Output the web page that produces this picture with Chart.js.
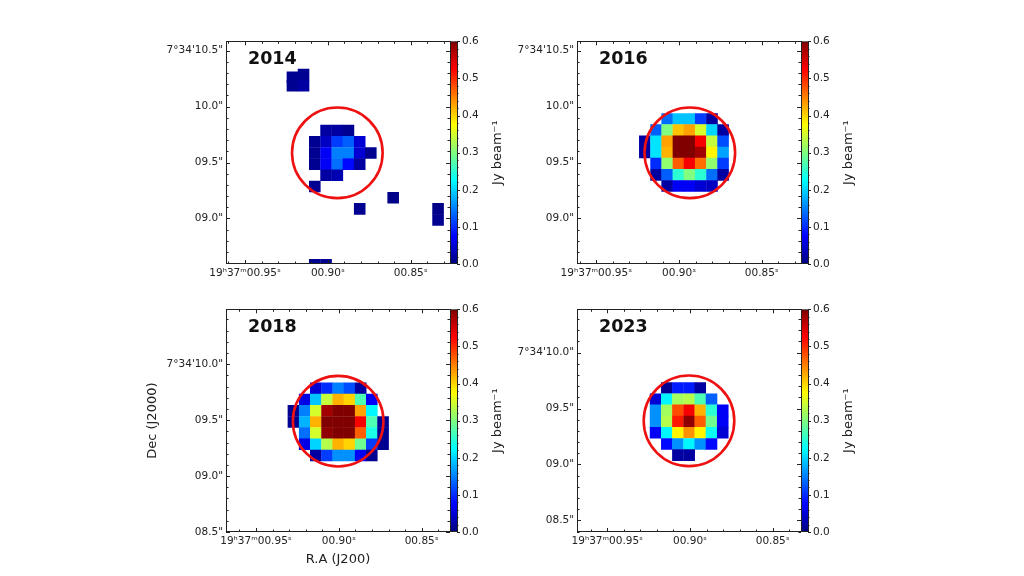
<!DOCTYPE html>
<html>
<head>
<meta charset="utf-8">
<title>Flux maps</title>
<script src="https://cdn.jsdelivr.net/npm/chart.js@4"></script>
<style>
  html, body { margin: 0; background: #fff; width: 1024px; height: 576px; overflow: hidden; }
  canvas { position: absolute; filter: blur(0.35px); }
</style>
</head>
<body>
<canvas id="map2014" width="379" height="281" style="left:141px;top:23px"></canvas>
<canvas id="map2016" width="379" height="281" style="left:492px;top:23px"></canvas>
<canvas id="map2018" width="379" height="281" style="left:141px;top:291px"></canvas>
<canvas id="map2023" width="379" height="281" style="left:492px;top:291px"></canvas>
<script>
// RA seconds of the map columns, Dec arcsec of the map rows (19h37m00.xx, 7d34'xx)
var ra2014 = [0.9079, 0.9011, 0.8943, 0.8876, 0.8808, 0.8741];
var dec2014 = [9.786, 9.686, 9.586, 9.486, 9.386, 9.286];
var flux2014 = [
  [null, 0.02, 0.02, 0.01, null, null],
  [0.01, 0.04, 0.11, 0.13, 0.05, null],
  [0.01, 0.07, 0.15, 0.15, 0.05, 0.01],
  [0.01, 0.07, 0.14, 0.08, 0.02, null],
  [null, 0.02, 0.03, null, null, null],
  [0.01, null, null, null, null, null]
];
// isolated noise spots in 2014
var spotRa2014 = [0.9214, 0.9214, 0.9147, 0.9147, 0.8606, 0.8808, 0.8335, 0.8335, 0.9079, 0.9011];
var spotDec2014 = [10.262, 10.186, 10.286, 10.186, 9.186, 9.086, 9.086, 8.986, 8.586, 8.586];
var spotFlux2014 = [0.01, 0.01, 0.01, 0.02, 0.005, 0.01, 0.005, 0.01, 0.01, 0.01];

var ra2016 = [0.9207, 0.9139, 0.9072, 0.9004, 0.8937, 0.8869, 0.8801, 0.8734];
var dec2016 = [9.89, 9.79, 9.69, 9.59, 9.49, 9.39, 9.29];
var flux2016 = [
  [null, null, 0.14, 0.19, 0.19, 0.11, 0.02, null],
  [null, 0.13, 0.30, 0.41, 0.43, 0.35, 0.20, 0.02],
  [0.02, 0.21, 0.43, 0.60, 0.60, 0.53, 0.34, 0.12],
  [0.02, 0.21, 0.42, 0.60, 0.60, 0.58, 0.38, 0.17],
  [null, 0.10, 0.31, 0.47, 0.53, 0.46, 0.31, 0.11],
  [null, 0.02, 0.13, 0.25, 0.30, 0.25, 0.14, 0.02],
  [null, null, 0.02, 0.07, 0.07, 0.05, 0.04, null]
];

var ra2018 = [0.9274, 0.9206, 0.9139, 0.9071, 0.9004, 0.8936, 0.8868, 0.8801, 0.8733];
var dec2018 = [9.784, 9.684, 9.584, 9.484, 9.384, 9.284, 9.184];
var flux2018 = [
  [null, null, 0.05, 0.10, 0.15, 0.12, 0.02, null, null],
  [null, 0.06, 0.19, 0.34, 0.42, 0.40, 0.27, 0.07, null],
  [0.01, 0.15, 0.35, 0.58, 0.60, 0.60, 0.43, 0.22, null],
  [0.01, 0.18, 0.42, 0.60, 0.60, 0.60, 0.53, 0.27, 0.01],
  [null, 0.14, 0.35, 0.59, 0.60, 0.60, 0.47, 0.24, 0.01],
  [null, 0.06, 0.20, 0.33, 0.42, 0.40, 0.29, 0.11, 0.01],
  [null, null, 0.02, 0.11, 0.16, 0.16, 0.07, 0.01, null]
];

var ra2023 = [0.9208, 0.9140, 0.9073, 0.9005, 0.8938, 0.8870, 0.8802];
var dec2023 = [9.683, 9.583, 9.483, 9.383, 9.283, 9.183, 9.083];
var flux2023 = [
  [null, 0.01, 0.09, 0.09, 0.02, null, null],
  [0.05, 0.22, 0.32, 0.33, 0.27, 0.13, null],
  [0.16, 0.32, 0.48, 0.53, 0.42, 0.25, 0.07],
  [0.16, 0.33, 0.51, 0.59, 0.47, 0.29, 0.07],
  [0.07, 0.22, 0.38, 0.44, 0.38, 0.23, 0.05],
  [null, 0.08, 0.16, 0.22, 0.16, 0.08, null],
  [null, null, 0.02, 0.02, null, null, null]
];

// axis limits per panel
var raLimits2014 = [0.9615, 0.8263];
var raLimits2016 = [0.9617, 0.8263];
var raLimits2018 = [0.9681, 0.8329];
var raLimits2023 = [0.9683, 0.8329];
var decLimits2014 = [8.593, 10.584];
var decLimits2016 = [8.593, 10.584];
var decLimits2018 = [8.5, 10.491];
var decLimits2023 = [8.396, 10.387];

// red source aperture: centre per panel, radius in arcsec
var circleRa = [0.8943, 0.8935, 0.9004, 0.9006];
var circleDec = [9.587, 9.587, 9.491, 9.39];
var circleRadius = 0.405;

// ticks
var raTicks = [0.95, 0.90, 0.85];
var raMinor = [0.96, 0.94, 0.93, 0.92, 0.91, 0.89, 0.88, 0.87, 0.86, 0.84, 0.83];
var decMinor = [8.4, 8.6, 8.7, 8.8, 8.9, 9.1, 9.2, 9.3, 9.4, 9.6, 9.7, 9.8, 9.9, 10.1, 10.2, 10.3, 10.4, 10.6];
var decTicksHigh = [10.5, 10.0, 9.5, 9.0];
var decLabelsHigh = ['7°34\'10.5"', '10.0"', '09.5"', '09.0"'];
var decTicksLow = [10.0, 9.5, 9.0, 8.5];
var decLabelsLow = ['7°34\'10.0"', '09.5"', '09.0"', '08.5"'];
var cbarTicks = [0, 0.1, 0.2, 0.3, 0.4, 0.5, 0.6];
var cbarMinor = [0.02, 0.04, 0.06, 0.08, 0.12, 0.14, 0.16, 0.18, 0.22, 0.24, 0.26, 0.28, 0.32, 0.34, 0.36, 0.38, 0.42, 0.44, 0.46, 0.48, 0.52, 0.54, 0.56, 0.58];

var cbarMax = 0.6;
var ink = '#222';
var cellArcsec = 0.1;

function jet(v) {
  var t = Math.min(Math.max(v / cbarMax, 0), 1);
  function ramp(c) {
    return Math.round(255 * Math.min(Math.max(1.5 - Math.abs(4 * t - c), 0), 1));
  }
  return 'rgb(' + ramp(3) + ',' + ramp(2) + ',' + ramp(1) + ')';
}

// matrix + row/col coordinates -> scatter points
function toPoints(ra, dec, flux) {
  var pts = [];
  for (var r in flux) {
    for (var c in flux[r]) {
      if (flux[r][c] !== null) pts.push({ x: ra[c], y: dec[r], v: flux[r][c] });
    }
  }
  return pts;
}

function spots(ra, dec, flux) {
  return ra.map(function (x, i) { return { x: x, y: dec[i], v: flux[i] }; });
}

// side of one map pixel in screen px, from the y scale
function cellRadius(ctx) {
  var y = ctx.chart.scales.y;
  var side = Math.abs(y.getPixelForValue(0) - y.getPixelForValue(cellArcsec));
  return (side + 0.4) / Math.SQRT2;
}

function circlePx(ctx) {
  var y = ctx.chart.scales.y;
  return Math.abs(y.getPixelForValue(0) - y.getPixelForValue(circleRadius));
}

// frame and inward ticks on all four sides, colour bar, year and rotated label
var framePlugin = {
  id: 'frame',
  afterDraw: function (chart, args, opts) {
    var c = chart.ctx, a = chart.chartArea, sx = chart.scales.x, sy = chart.scales.y, sb = chart.scales.cbar;
    c.save();
    c.strokeStyle = ink;
    c.lineWidth = 1;

    function hline(y, x1, x2) { y = Math.round(y) + 0.5; c.beginPath(); c.moveTo(x1, y); c.lineTo(x2, y); c.stroke(); }
    function vline(x, y1, y2) { x = Math.round(x) + 0.5; c.beginPath(); c.moveTo(x, y1); c.lineTo(x, y2); c.stroke(); }

    hline(a.top, a.left, a.right + 1);
    hline(a.bottom - 1, a.left, a.right + 1);
    vline(a.left, a.top, a.bottom);
    vline(a.right, a.top, a.bottom);

    raTicks.forEach(function (v) {
      var p = sx.getPixelForValue(v);
      vline(p, a.bottom - 4, a.bottom); vline(p, a.top, a.top + 4);
    });
    raMinor.forEach(function (v) {
      var p = sx.getPixelForValue(v);
      if (p < a.left || p > a.right) return;
      vline(p, a.bottom - 2.5, a.bottom); vline(p, a.top, a.top + 2.5);
    });
    opts.decTicks.forEach(function (v) {
      var p = sy.getPixelForValue(v);
      hline(p, a.left, a.left + 4); hline(p, a.right - 4, a.right);
    });
    decMinor.forEach(function (v) {
      var p = sy.getPixelForValue(v);
      if (p < a.top || p > a.bottom) return;
      hline(p, a.left, a.left + 2.5); hline(p, a.right - 2.5, a.right);
    });

    // colour bar
    var bx = a.right + 1, bw = 6;
    for (var p = Math.ceil(a.top); p < a.bottom; p++) {
      c.fillStyle = jet(sb.getValueForPixel(p + 0.5));
      c.fillRect(bx, p, bw, 1);
    }
    c.strokeRect(bx - 0.5, a.top + 0.5, bw + 1, a.bottom - a.top - 1);
    cbarTicks.forEach(function (v) {
      hline(sb.getPixelForValue(v), bx + bw, bx + bw + 3);
    });
    cbarMinor.forEach(function (v) {
      hline(sb.getPixelForValue(v), bx + bw, bx + bw + 1.5);
    });

    c.fillStyle = '#111';
    c.font = 'bold 17.5px "DejaVu Sans"';
    c.textAlign = 'left';
    c.textBaseline = 'alphabetic';
    c.fillText(opts.year, a.left + 22, a.top + 23);

    c.fillStyle = ink;
    c.font = '13px "DejaVu Sans"';
    c.translate(a.right + 47.5, (a.top + a.bottom) / 2);
    c.rotate(-Math.PI / 2);
    c.textAlign = 'center';
    c.textBaseline = 'middle';
    c.fillText('Jy beam⁻¹', 0, 0);
    c.restore();
  }
};

function drawPanel(id, year, points, circleIdx, raLimits, decLimits, decTicks, decLabels, xTitle, yTitle) {
  new Chart(document.getElementById(id), {
    type: 'scatter',
    data: {
      datasets: [
        {
          label: 'aperture',
          data: [{ x: circleRa[circleIdx], y: circleDec[circleIdx] }],
          pointStyle: 'circle',
          pointRadius: circlePx,
          pointBackgroundColor: 'rgba(0,0,0,0)',
          pointBorderColor: '#ee1111',
          pointBorderWidth: 2.6
        },
        {
          label: 'flux',
          data: points,
          pointStyle: 'rect',
          pointRadius: cellRadius,
          pointBorderWidth: 0,
          pointBackgroundColor: function (ctx) { return jet(ctx.raw.v); }
        }
      ]
    },
    options: {
      responsive: false,
      animation: false,
      events: [],
      layout: { padding: { top: 12 } },
      plugins: {
        legend: { display: false },
        tooltip: { enabled: false },
        frame: { year: year, decTicks: decTicks }
      },
      scales: {
        x: {
          type: 'linear',
          min: raLimits[1],
          max: raLimits[0],
          reverse: true,
          afterFit: function (s) { s.height = 40; },
          afterBuildTicks: function (s) { s.ticks = raTicks.map(function (v) { return { value: v }; }); },
          grid: { display: false, drawTicks: false },
          border: { display: false },
          ticks: {
            autoSkip: false,
            maxRotation: 0,
            padding: 3,
            color: ink,
            font: { family: '"DejaVu Sans"', size: 10.5 },
            callback: function (v) {
              return v === 0.95 ? '19ʰ37ᵐ00.95ˢ' : '00.' + Math.round(v * 100) + 'ˢ';
            }
          },
          title: {
            display: xTitle !== '',
            text: xTitle,
            color: ink,
            font: { family: '"DejaVu Sans"', size: 13 },
            padding: { top: 0, bottom: 5 }
          }
        },
        y: {
          type: 'linear',
          min: decLimits[0],
          max: decLimits[1],
          afterFit: function (s) { s.width = 85; },
          afterBuildTicks: function (s) { s.ticks = decTicks.map(function (v) { return { value: v }; }); },
          grid: { display: false, drawTicks: false },
          border: { display: false },
          ticks: {
            autoSkip: false,
            padding: 3,
            color: ink,
            font: { family: '"DejaVu Sans"', size: 10.5 },
            callback: function (v) { return decLabels[decTicks.indexOf(v)]; }
          },
          title: {
            display: yTitle !== '',
            text: yTitle,
            color: ink,
            font: { family: '"DejaVu Sans"', size: 13 },
            padding: { top: 4, bottom: 0 }
          }
        },
        cbar: {
          type: 'linear',
          position: 'right',
          min: 0,
          max: cbarMax,
          afterFit: function (s) { s.width = 70; },
          afterBuildTicks: function (s) { s.ticks = cbarTicks.map(function (v) { return { value: v }; }); },
          grid: { display: false, drawTicks: false },
          border: { display: false },
          ticks: {
            padding: 12,
            color: ink,
            font: { family: '"DejaVu Sans"', size: 10.5 },
            callback: function (v) { return v.toFixed(1); }
          }
        }
      }
    },
    plugins: [framePlugin]
  });
}

drawPanel('map2014', '2014', toPoints(ra2014, dec2014, flux2014).concat(spots(spotRa2014, spotDec2014, spotFlux2014)),
  0, raLimits2014, decLimits2014, decTicksHigh, decLabelsHigh, '', '');
drawPanel('map2016', '2016', toPoints(ra2016, dec2016, flux2016),
  1, raLimits2016, decLimits2016, decTicksHigh, decLabelsHigh, '', '');
drawPanel('map2018', '2018', toPoints(ra2018, dec2018, flux2018),
  2, raLimits2018, decLimits2018, decTicksLow, decLabelsLow, 'R.A (J200)', 'Dec (J2000)');
drawPanel('map2023', '2023', toPoints(ra2023, dec2023, flux2023),
  3, raLimits2023, decLimits2023, decTicksLow, decLabelsLow, '', '');
</script>
</body>
</html>
